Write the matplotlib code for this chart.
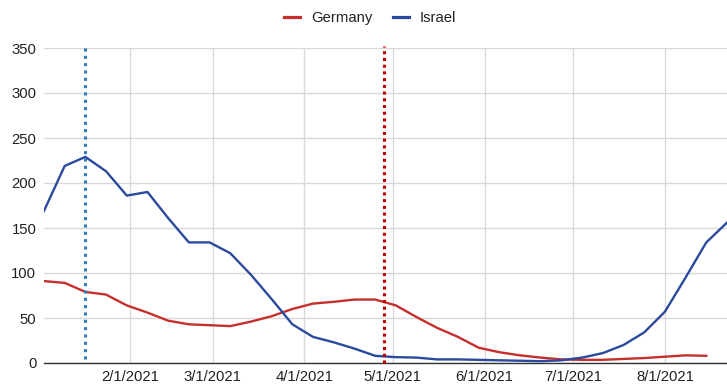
"""
Weekly incidence, Germany vs Israel, 2021.
"""
import datetime as dt

import matplotlib
matplotlib.use("Agg")
import matplotlib.pyplot as plt
from matplotlib.lines import Line2D

# --- DATA --- #
start = dt.date(2021, 1, 3)
weeks = [start + dt.timedelta(days=7 * i) for i in range(34)]

germany = [91, 89, 79, 76, 64, 56, 47, 43, 42, 41, 46, 52, 60, 66, 68, 70.5, 70.5,
           64, 51, 39, 29, 17, 12, 8.5, 6, 4, 3.5, 3.5, 4.5, 5.5, 7, 8.5, 8]
israel = [169, 219, 229, 213, 186, 190, 161, 134, 134, 122, 98, 71, 43, 29, 23, 16, 8,
          6.5, 6, 4, 4, 3.5, 3, 2.5, 2, 3, 6, 11, 20, 34, 57, 95, 134, 156]

israel_marker = dt.date(2021, 1, 17)
germany_marker = dt.date(2021, 4, 28)

month_ticks = [dt.date(2021, m, 1) for m in range(2, 9)]
month_labels = [f"{m}/1/2021" for m in range(2, 9)]

RED = "#c5302c"
BLUE = "#2b4a9e"
FONT_SIZE = 10.7

plt.rcParams["font.family"] = ["Liberation Sans", "DejaVu Sans"]

# --- FIGURE --- #
fig = plt.figure(figsize=(7.27, 3.84), dpi=100)
ax = fig.add_axes([44 / 727, 1 - 363 / 384, 1 - 44 / 727, (363 - 48) / 384])

ax.plot(weeks[:len(germany)], germany, color=RED, linewidth=1.7, zorder=3)
ax.plot(weeks, israel, color=BLUE, linewidth=1.7, zorder=3)

# --- DOTTED EVENT LINES --- #
ax.plot([israel_marker, israel_marker], [5, 352], color="#2f7bbf", linewidth=2.2,
        linestyle=(0, (1, 1.4)), clip_on=False, zorder=4)
ax.plot([germany_marker, germany_marker], [0, 352], color="#c00000", linewidth=2.2,
        linestyle=(0, (1, 1.2)), clip_on=False, zorder=4)

# --- AXES --- #
ax.set_xlim(weeks[0], weeks[-1])
ax.set_ylim(0, 350)
ax.set_yticks(range(0, 351, 50))
ax.set_xticks(month_ticks)
ax.set_xticklabels(month_labels)

ax.grid(True, color="#d9d9d9", linewidth=1)
ax.set_axisbelow(True)
for side in ["top", "right", "left"]:
    ax.spines[side].set_visible(False)
ax.spines["bottom"].set_color("#333333")
ax.spines["bottom"].set_linewidth(1)
ax.tick_params(axis="both", length=0, labelsize=FONT_SIZE, colors="#222222")
ax.tick_params(axis="y", pad=5.5)
ax.tick_params(axis="x", pad=5)

# --- LEGEND --- #
handles = [Line2D([], [], color=RED, linewidth=2.3),
           Line2D([], [], color=BLUE, linewidth=2.3)]
fig.legend(handles, ["Germany", "Israel"], loc="upper center",
           bbox_to_anchor=(0.509, 1.005), ncol=2, frameon=False, fontsize=FONT_SIZE,
           handlelength=1.08, columnspacing=1.4, handletextpad=0.74,
           labelcolor="#222222")

fig.savefig("out.png", dpi=100)
